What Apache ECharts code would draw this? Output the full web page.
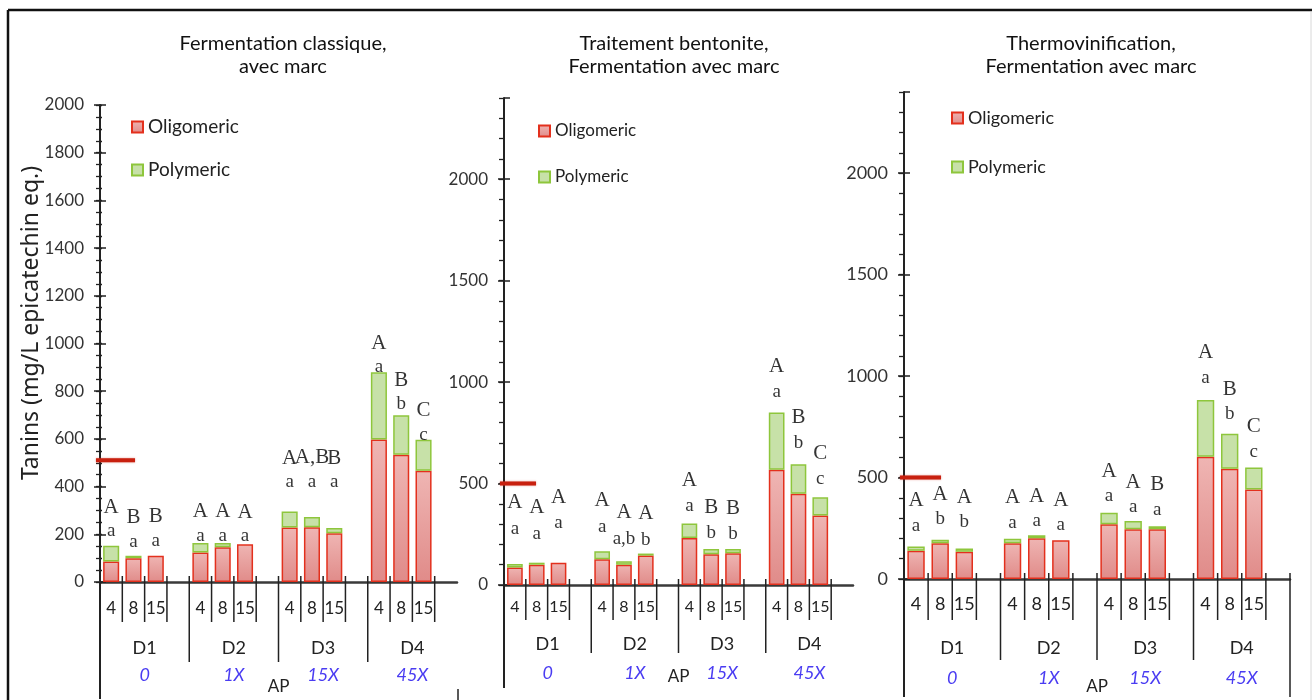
<!DOCTYPE html>
<html><head><meta charset="utf-8">
<script src="https://cdn.jsdelivr.net/npm/echarts@6/dist/echarts.min.js"></script>
<style>html,body{margin:0;padding:0;background:#fff}#c{width:1312px;height:700px}</style>
</head><body><div id="c"></div>
<script>
// ---- categories ----
const xCats = ['4','8','15','', '4','8','15','', '4','8','15','', '4','8','15',''];
const groupCats = ['D1','D2','D3','D4'];
const apLabels = ['0','1X','15X','45X'];
const seriesNames = ['Oligomeric','Polymeric'];
const panelTitles = ['Fermentation classique,\navec marc','Traitement bentonite,\nFermentation avec marc','Thermovinification,\nFermentation avec marc'];

// ---- panel 1 : Fermentation classique ----
const oligo1 = [86,100,110,null, 124,146,158,null, 229,230,204,null, 598,534,466,null];
const poly1  = [66,10,null,null, 39,17,null,null, 67,43,22,null, 281,165,130,null];
const upper1 = ['A','B','B','', 'A','A','A','', 'A','A,B','B','', 'A','B','C',''];
const lower1 = ['a','a','a','', 'a','a','a','', 'a','a','a','', 'a','b','c',''];
const letterAt1 = [263,220,224,null, 245,245,242,null, 468,470,468,null, 951,796,667,null];

// ---- panel 2 : Traitement bentonite ----
const oligo2 = [86,100,110,null, 127,100,145,null, 232,152,156,null, 568,450,343,null];
const poly2  = [18,10,null,null, 39,17,10,null, 71,26,22,null, 282,145,89,null];
const upper2 = ['A','A','A','', 'A','A','A','', 'A','B','B','', 'A','B','C',''];
const lower2 = ['a','a','a','', 'a','a,b','b','', 'a','b','b','', 'a','b','c',''];
const letterAt2 = [342,317,369,null, 352,292,286,null, 452,319,313,null, 1014,762,585,null];

// ---- panel 3 : Thermovinification ----
const oligo3 = [139,176,134,null, 176,201,191,null, 270,245,245,null, 603,543,441,null];
const poly3  = [21,17,16,null, 22,15,null,null, 57,41,15,null, 279,173,108,null];
const upper3 = ['A','A','A','', 'A','A','A','', 'A','A','B','', 'A','B','C',''];
const lower3 = ['a','b','b','', 'a','a','a','', 'a','a','a','', 'a','b','c',''];
const letterAt3 = [324,355,341,null, 339,347,327,null, 469,415,404,null, 1054,874,688,null];

// reference (red) line values
const refValues = [510, 500, 500];
// y axis tick settings
const yMax = [2000, 2400, 2400];
const yMajor = [200, 500, 500];
const yMinor = [50, 100, 100];

const FONT = 'Lato';
const panels = [
  {oligo:oligo1, poly:poly1, up:upper1, lo:lower1, at:letterAt1,
   grid:{left:100, top:105, width:357, height:478}, titleX:278, titleTop:27,
   legend:{left:126, top:112, gap:23, fs:19}, yfs:17, xfs:17, xMargin:18, dMargin:53, dLH:27, apGap:96,
   shortLen:40, longLen:80, ext:117, rightLine:false, refLen:39, lh:24, minorInside:true},
  {oligo:oligo2, poly:poly2, up:upper2, lo:lower2, at:letterAt2,
   grid:{left:504, top:98, width:349, height:487}, titleX:669, titleTop:27,
   legend:{left:533, top:116, gap:26, fs:17}, yfs:17, xfs:16, xMargin:14, dMargin:45, dLH:29, apGap:83,
   shortLen:35, longLen:68, ext:103, rightLine:false, refLen:36, lh:26, minorInside:false},
  {oligo:oligo3, poly:poly3, up:upper3, lo:lower3, at:letterAt3,
   grid:{left:904, top:92, width:386, height:490}, titleX:1086, titleTop:27,
   legend:{left:946, top:103, gap:29, fs:18}, yfs:18, xfs:18, xMargin:16, dMargin:54, dLH:30, apGap:99,
   shortLen:41, longLen:81, ext:118, rightLine:true, refLen:41, lh:25, minorInside:false}
];

const oligoColor = new echarts.graphic.LinearGradient(0,0,0,1,[{offset:0,color:'#efb5b3'},{offset:1,color:'#e08b89'}]);
const polyColor = '#c7e1a8';

const option = {
  animation:false, backgroundColor:'#fff',
  title:[], legend:[], grid:[], xAxis:[], yAxis:[], series:[],
  graphic:[
    {type:'line', shape:{x1:8,y1:10,x2:1312,y2:10}, style:{stroke:'#111', lineWidth:2.5}},
    {type:'line', shape:{x1:8,y1:10,x2:8,y2:700}, style:{stroke:'#111', lineWidth:2.5}},
    {type:'line', shape:{x1:1311,y1:12,x2:1311,y2:700}, style:{stroke:'#d8d8d8', lineWidth:1}},
    {type:'line', shape:{x1:458,y1:689,x2:458,y2:700}, style:{stroke:'#222', lineWidth:1.5}},
    {type:'text', x:31, y:323, rotation:Math.PI/2,
     style:{text:'Tanins (mg/L epicatechin eq.)', fontFamily:'Noto Sans', fontSize:23, fill:'#222',
            align:'center', verticalAlign:'middle', textAlign:'center', textVerticalAlign:'middle'}}
  ]
};

panels.forEach((p, k) => {
  option.title.push({text:panelTitles[k], left:p.titleX, top:p.titleTop, textAlign:'center',
    textStyle:{fontFamily:FONT, fontSize:20, fontWeight:'normal', lineHeight:23, color:'#111'}});
  option.legend.push({data:seriesNames, orient:'vertical', left:p.legend.left, top:p.legend.top,
    itemGap:p.legend.gap, itemWidth:11, itemHeight:11, icon:'rect', selectedMode:false,
    textStyle:{fontFamily:FONT, fontSize:p.legend.fs, color:'#222', lineHeight:20}});
  option.grid.push(Object.assign({containLabel:false}, p.grid));

  // x axes: cells (4/8/15) and groups (D1..D4)
  option.xAxis.push({type:'category', gridIndex:k, data:xCats, boundaryGap:true,
    axisLine:{show:true, onZero:false, lineStyle:{color:'#3a3a3a', width:2.5}},
    axisTick:{show:false},
    axisLabel:{fontFamily:FONT, fontSize:p.xfs, color:'#222', margin:p.xMargin, interval:0},
    name:'AP', nameLocation:'middle', nameGap:p.apGap,
    nameTextStyle:{fontFamily:FONT, fontSize:17, color:'#222'}});
  option.xAxis.push({type:'category', gridIndex:k, data:groupCats, boundaryGap:true, position:'bottom',
    axisLine:{show:false}, axisTick:{show:false},
    axisLabel:{interval:0, margin:p.dMargin,
      formatter:(v, i) => '{d|' + v + '}\n{ap|' + apLabels[i] + '}',
      rich:{d:{fontFamily:FONT, fontSize:18, color:'#222', lineHeight:p.dLH},
            ap:{fontFamily:FONT, fontSize:18, fontStyle:'italic', color:'#4a3cf2', lineHeight:p.dLH}}}});

  // y axes: main (labels + outside ticks), inside major ticks, minor ticks
  const yi = option.yAxis.length;
  option.yAxis.push({type:'value', gridIndex:k, position:'left', min:0, max:yMax[k], interval:yMajor[k],
    axisLine:{show:true, lineStyle:{color:'#222', width:2}},
    axisTick:{show:true, length:6, lineStyle:{color:'#222', width:1.5}},
    splitLine:{show:false},
    axisLabel:{fontFamily:FONT, fontSize:p.yfs, color:'#333', margin:16, showMaxLabel:k===0,
               formatter:(v) => String(v)}});
  option.yAxis.push({type:'value', gridIndex:k, position:'left', min:0, max:yMax[k], interval:yMajor[k],
    axisLine:{show:false}, axisLabel:{show:false}, splitLine:{show:false},
    axisTick:{show:true, inside:true, length:6, lineStyle:{color:'#222', width:1.5}}});
  option.yAxis.push({type:'value', gridIndex:k, position:'left', min:0, max:yMax[k], interval:yMinor[k],
    axisLine:{show:false}, axisLabel:{show:false}, splitLine:{show:false},
    axisTick:{show:true, inside:false, length:p.minorInside ? 4 : 5, lineStyle:{color:'#222', width:1.3}}});
  if (p.minorInside) {
    option.yAxis.push({type:'value', gridIndex:k, position:'left', min:0, max:yMax[k], interval:yMinor[k],
      axisLine:{show:false}, axisLabel:{show:false}, splitLine:{show:false},
      axisTick:{show:true, inside:true, length:2, lineStyle:{color:'#222', width:1.3}}});
  }
  const xi = 2*k;

  option.series.push({type:'bar', name:seriesNames[0], xAxisIndex:xi, yAxisIndex:yi, stack:'s'+k,
    data:p.oligo, barCategoryGap:'28%',
    itemStyle:{color:oligoColor, borderColor:'#e3301d', borderWidth:1.5}});
  option.series.push({type:'bar', name:seriesNames[1], xAxisIndex:xi, yAxisIndex:yi, stack:'s'+k,
    data:p.poly, barCategoryGap:'28%',
    itemStyle:{color:polyColor, borderColor:'#8ec63c', borderWidth:1.5}});

  // significance letters
  const letterData = [];
  p.at.forEach((v, i) => { if (v !== null) letterData.push([i, v]); });
  option.series.push({type:'scatter', xAxisIndex:xi, yAxisIndex:yi, symbolSize:0, silent:true,
    data:letterData, z:5,
    label:{show:true, position:'inside',
      formatter:(prm) => '{u|' + p.up[prm.data[0]] + '}\n{l|' + p.lo[prm.data[0]] + '}',
      rich:{u:{fontFamily:'Liberation Serif', fontSize:21, color:'#000', lineHeight:p.lh},
            l:{fontFamily:'Liberation Serif', fontSize:19, color:'#000', lineHeight:p.lh}}}});

  // category separators derived from the category structure
  const sepData = [];
  xCats.forEach((c, i) => {
    if (c !== '') sepData.push([i, 0]);
    if (i % 4 === 0) sepData.push([i, i === 0 ? 2 : 1]);
  });
  if (p.rightLine) sepData.push([xCats.length - 1, 3]);
  option.series.push({type:'custom', xAxisIndex:xi, yAxisIndex:yi, silent:true, clip:false, z:1,
    data:sepData,
    renderItem:(params, api) => {
      const i = api.value(0), kind = api.value(1);
      const c = api.coord([i, 0]);
      const bw = api.size([1, 0])[0];
      let x, y1, y2;
      if (kind === 0) { x = c[0] + bw/2; y1 = c[1] - 6; y2 = c[1] + p.shortLen; }
      else if (kind === 1) { x = c[0] - bw/2; y1 = c[1] - 6; y2 = c[1] + p.longLen; }
      else if (kind === 2) { x = c[0] - bw/2; y1 = c[1]; y2 = c[1] + p.ext; }
      else { x = c[0] + bw/2; y1 = c[1] - 6; y2 = c[1] + p.ext; }
      return {type:'line', shape:{x1:x, y1:y1, x2:x, y2:y2},
              style:{stroke:'#222', lineWidth:kind === 2 ? 2 : 1.5}};
    }});

  // red reference line
  option.series.push({type:'custom', xAxisIndex:xi, yAxisIndex:yi, silent:true, clip:false, z:6,
    data:[[0, refValues[k]]],
    renderItem:(params, api) => {
      const c = api.coord([0, api.value(1)]);
      const bw = api.size([1, 0])[0];
      const x0 = c[0] - bw/2 - 4;
      return {type:'line', shape:{x1:x0, y1:c[1], x2:x0 + p.refLen, y2:c[1]},
              style:{stroke:'#c8200f', lineWidth:4, shadowBlur:2, shadowColor:'rgba(200,32,15,0.5)'}};
    }});
});

const chart = echarts.init(document.getElementById('c'));
chart.setOption(option);
</script>
</body></html>
